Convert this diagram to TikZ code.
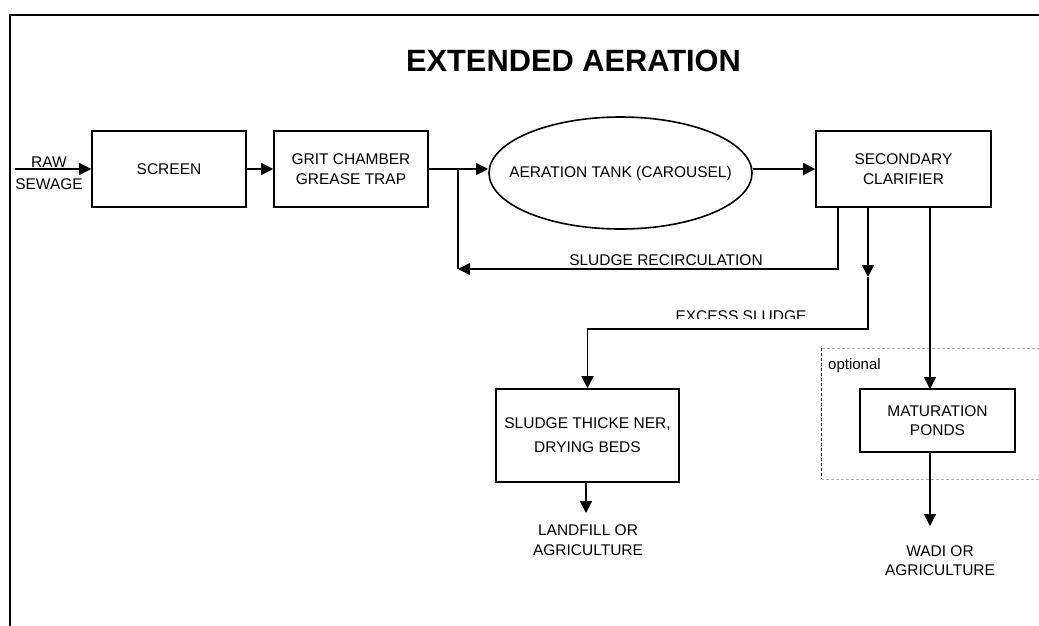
\documentclass[tikz,border=0pt]{standalone}
\usepackage{fontspec}
\setmainfont{Liberation Sans}
\usetikzlibrary{arrows.meta,shapes.geometric}
\begin{document}
\begin{tikzpicture}[x=1pt,y=-1pt,
  txt/.style={font=\fontsize{15.5}{19.5}\selectfont, align=center, inner sep=0pt},
  box/.style={txt, draw, line width=1.6pt, minimum width=#1},
  conn/.style={line width=1.5pt},
  arr/.style={conn, -{Triangle[length=12pt,width=12pt]}}]
\useasboundingbox (0,0) rectangle (1039,625);
% frame
\draw[line width=2pt] (1045,15) -- (10,15) -- (10,630);
% title
\node[font=\bfseries\fontsize{30.8}{36}\selectfont] (title) at (573.5,61) {EXTENDED AERATION};
% nodes
\node[box=154pt, minimum height=76pt] (screen) at (169,169) {SCREEN};
\node[box=154pt, minimum height=76pt] (grit) at (351,169) {GRIT CHAMBER\\GREASE TRAP};
\node[draw, ellipse, line width=1.6pt, inner sep=0pt, minimum width=263pt, minimum height=112pt,
  label={[txt]center:AERATION TANK (CAROUSEL)}] (ell) at (620.5,173) {};
\node[box=175pt, minimum height=76pt] (clar) at (903.5,169) {SECONDARY\\CLARIFIER};
\node[box=183pt, minimum height=93pt, font=\fontsize{15.5}{24}\selectfont] (thick) at (587.5,435.5) {SLUDGE THICKE NER,\\DRYING BEDS};
\node[box=155pt, minimum height=63pt] (mat) at (937.5,420.5) {MATURATION\\PONDS};
\node[txt] (land) at (588,540) {LANDFILL OR\\AGRICULTURE};
\node[txt] (wadi) at (940,560.5) {WADI OR\\AGRICULTURE};
\node[txt, font=\fontsize{15.5}{22}\selectfont] (raw) at (49,173.5) {RAW\\SEWAGE};
\node[txt] (recl) at (666,260) {SLUDGE RECIRCULATION};
\node[txt, anchor=base west, font=\fontsize{15}{18}\selectfont] (opt) at (828,369) {optional};
\begin{scope}
\clip (600,300) rectangle (860,318.5);
\node[txt] (exl) at (741,316) {EXCESS SLUDGE};
\end{scope}
% optional region
\draw[gray!60, densely dashed, line width=0.8pt] (1045,348) -- (821,348);
\draw[black, densely dashed, line width=0.8pt] (821,348) -- (821,479);
\draw[gray!60, densely dashed, line width=0.8pt] (821,479) -- (1045,479);
% coordinates
\coordinate (in) at (15,169);
\coordinate (j) at (458,169);
\coordinate (r1) at (838,207);
\coordinate (r2) at (458,269);
\coordinate (e1) at (868,207);
\coordinate (e2) at (868,277);
\coordinate (e3) at (868,329);
\coordinate (m1) at (930,207);
\coordinate (m2) at (930,389);
\coordinate (m3) at (930,452);
\coordinate (m4) at (930,526);
\coordinate (t1) at (586,482);
\coordinate (t2) at (586,513);
% connectors
\draw[arr] (in) -- (screen.west);
\draw[arr] (screen.east) -- (grit.west);
\draw[arr] (grit.east) -- (grit.east -| ell.west);
\draw[arr] (ell.east |- clar.west) -- (clar.west);
\draw[arr] (r1) |- (r2);
\draw[conn] (r2) -- (j);
\draw[arr] (e1) -- (e2);
\draw[arr] (e2) -- (e3) -| (thick.north);
\draw[arr] (m1) -- (m2);
\draw[arr] (m3) -- (m4);
\draw[arr] (t1) -- (t2);
\end{tikzpicture}
\end{document}
